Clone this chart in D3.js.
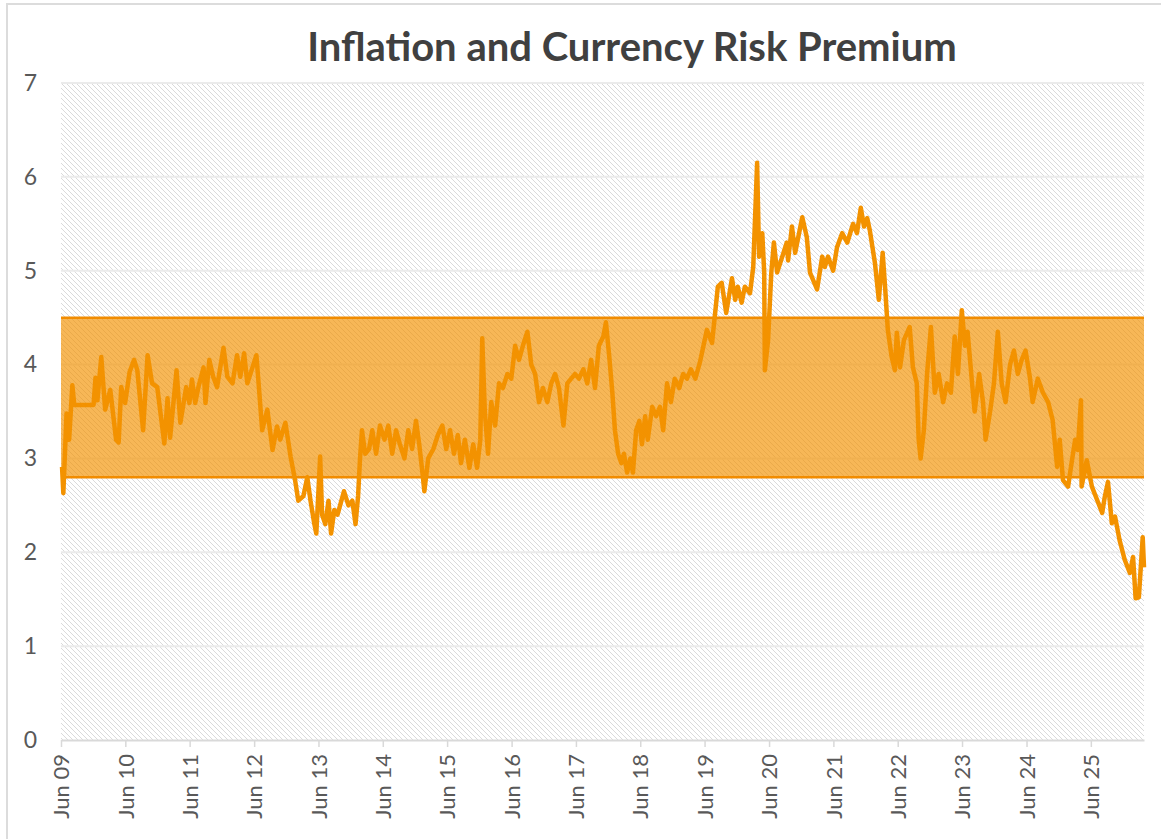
<!DOCTYPE html>
<html>
<head>
<meta charset="utf-8">
<script src="https://cdn.jsdelivr.net/npm/d3@7"></script>
<style>
  body { margin: 0; background: #fff; }
  .tick text { font-family: Lato, "Noto Sans", sans-serif; fill: #595959; }
</style>
</head>
<body>
<div id="chart-container"></div>
<script>
// decimal years of each observation
const years = [2009.43,2009.45,2009.50,2009.54,2009.59,2009.62,2009.92,2009.95,2009.98,2010.04,
  2010.10,2010.18,2010.27,2010.31,2010.35,2010.41,2010.48,2010.55,2010.60,2010.69,
  2010.76,2010.83,2010.91,2011.02,2011.07,2011.11,2011.21,2011.27,2011.36,2011.41,
  2011.45,2011.50,2011.55,2011.63,2011.66,2011.72,2011.78,2011.84,2011.94,2012.00,
  2012.08,2012.15,2012.20,2012.26,2012.31,2012.39,2012.45,2012.48,2012.54,2012.62,
  2012.70,2012.77,2012.82,2012.90,2012.98,2013.05,2013.10,2013.18,2013.24,2013.29,
  2013.35,2013.38,2013.41,2013.44,2013.47,2013.52,2013.57,2013.61,2013.66,2013.71,
  2013.75,2013.81,2013.88,2013.94,2013.99,2014.03,2014.06,2014.09,2014.14,2014.20,
  2014.25,2014.31,2014.37,2014.44,2014.50,2014.56,2014.62,2014.68,2014.75,2014.81,
  2014.87,2014.93,2014.98,2015.03,2015.06,2015.12,2015.20,2015.27,2015.34,2015.40,
  2015.46,2015.52,2015.58,2015.63,2015.69,2015.76,2015.82,2015.88,2015.93,2015.96,
  2016.00,2016.05,2016.10,2016.16,2016.22,2016.28,2016.35,2016.41,2016.47,2016.53,
  2016.59,2016.66,2016.72,2016.78,2016.84,2016.90,2016.97,2017.03,2017.09,2017.15,
  2017.22,2017.28,2017.34,2017.40,2017.46,2017.53,2017.59,2017.65,2017.71,2017.77,
  2017.84,2017.88,2017.93,2017.98,2018.02,2018.07,2018.12,2018.16,2018.21,2018.26,
  2018.30,2018.35,2018.40,2018.44,2018.49,2018.53,2018.60,2018.66,2018.72,2018.77,
  2018.83,2018.89,2018.95,2019.02,2019.08,2019.14,2019.20,2019.27,2019.34,2019.45,
  2019.53,2019.62,2019.68,2019.75,2019.84,2019.89,2019.93,2019.99,2020.04,2020.12,
  2020.17,2020.23,2020.26,2020.31,2020.34,2020.35,2020.40,2020.45,2020.49,2020.54,
  2020.62,2020.69,2020.71,2020.77,2020.82,2020.86,2020.93,2021.00,2021.05,2021.16,
  2021.24,2021.28,2021.33,2021.41,2021.47,2021.55,2021.63,2021.72,2021.78,2021.84,
  2021.89,2021.94,2021.98,2022.06,2022.12,2022.18,2022.22,2022.26,2022.32,2022.37,
  2022.40,2022.45,2022.51,2022.60,2022.65,2022.71,2022.74,2022.77,2022.82,2022.87,
  2022.93,2022.99,2023.05,2023.12,2023.18,2023.24,2023.30,2023.35,2023.41,2023.46,
  2023.50,2023.57,2023.61,2023.68,2023.74,2023.78,2023.85,2023.91,2023.97,2024.03,
  2024.09,2024.16,2024.22,2024.28,2024.34,2024.40,2024.47,2024.51,2024.59,2024.67,
  2024.75,2024.82,2024.89,2024.93,2024.98,2025.06,2025.12,2025.17,2025.21,2025.26,
  2025.27,2025.35,2025.43,2025.51,2025.59,2025.63,2025.68,2025.74,2025.79,2025.86,
  2025.94,2026.02,2026.07,2026.11,2026.16,2026.22,2026.24]

const premium = [2.91,2.63,3.48,3.20,3.78,3.57,3.57,3.86,3.62,4.08,
  3.52,3.73,3.20,3.17,3.76,3.59,3.92,4.05,3.94,3.30,
  4.10,3.80,3.76,3.16,3.64,3.22,3.94,3.38,3.76,3.59,
  3.84,3.59,3.76,3.97,3.59,4.05,3.87,3.76,4.18,3.87,
  3.80,4.10,3.87,4.12,3.80,3.97,4.10,3.84,3.30,3.52,
  3.09,3.34,3.20,3.38,3.02,2.77,2.55,2.60,2.80,2.55,
  2.30,2.20,2.60,3.02,2.40,2.30,2.55,2.20,2.45,2.40,
  2.50,2.65,2.50,2.55,2.30,2.60,3.00,3.30,3.05,3.10,
  3.30,3.05,3.35,3.20,3.35,3.05,3.30,3.15,3.00,3.30,
  3.10,3.40,3.15,2.85,2.65,3.00,3.10,3.25,3.35,3.10,
  3.30,3.05,3.25,2.95,3.20,2.90,3.15,2.90,3.20,4.28,
  3.50,3.05,3.60,3.35,3.80,3.75,3.90,3.85,4.20,4.05,
  4.20,4.35,4.00,3.90,3.60,3.75,3.60,3.80,3.90,3.75,
  3.35,3.80,3.85,3.90,3.85,3.95,3.80,4.05,3.75,4.20,
  4.30,4.45,4.10,3.70,3.30,3.05,2.95,3.05,2.85,3.00,
  2.85,3.30,3.40,3.15,3.45,3.20,3.55,3.45,3.55,3.30,
  3.80,3.60,3.85,3.75,3.90,3.85,3.95,3.85,4.02,4.37,
  4.23,4.83,4.87,4.55,4.92,4.69,4.83,4.66,4.83,4.76,
  5.04,6.15,5.15,5.40,4.98,3.94,4.26,4.98,5.30,4.98,
  5.15,5.30,5.11,5.47,5.19,5.33,5.57,5.36,4.98,4.80,
  5.15,5.04,5.15,5.00,5.25,5.40,5.30,5.50,5.40,5.67,
  5.47,5.56,5.43,5.08,4.69,5.19,4.80,4.37,4.08,3.94,
  4.34,3.97,4.26,4.40,3.97,3.80,3.20,3.00,3.30,3.90,
  4.40,3.70,3.90,3.60,3.80,3.70,4.30,3.90,4.58,4.20,
  4.35,3.80,3.50,3.90,3.60,3.20,3.50,3.80,4.35,3.80,
  3.60,4.00,4.15,3.90,4.05,4.15,3.85,3.60,3.85,3.70,
  3.60,3.41,2.91,3.20,2.77,2.70,2.98,3.20,3.09,3.62,
  2.70,2.98,2.70,2.56,2.42,2.59,2.75,2.31,2.38,2.13,
  1.92,1.78,1.95,1.51,1.52,2.16,1.84]

const bandLow = 2.8
const bandHigh = 4.5
const yTicks = [0, 1, 2, 3, 4, 5, 6, 7]
const tickYears = d3.range(2009, 2026)
const title = 'Inflation and Currency Risk Premium'

function toDate(y) {
    const yr = Math.floor(y)
    const start = new Date(yr, 0, 1), end = new Date(yr + 1, 0, 1)
    return new Date(+start + (y - yr) * (end - start))
}

document.addEventListener('DOMContentLoaded', function(){

    const W = 1161, H = 839
    const margin = {top: 83, right: 17, bottom: 99, left: 61}
    const width = W - margin.left - margin.right
    const height = H - margin.top - margin.bottom

    const root = d3.select('#chart-container')
        .append('svg')
        .attr('width', W)
        .attr('height', H)

    const defs = root.append('defs')
    const pat = defs.append('pattern')
        .attr('id', 'hatch')
        .attr('patternUnits', 'userSpaceOnUse')
        .attr('width', 5).attr('height', 5)
    pat.append('rect').attr('width', 5).attr('height', 5).attr('fill', '#fff')
    pat.append('path')
        .attr('d', 'M-1,-1 L6,6 M-1,4 L1,6 M4,-1 L6,1')
        .attr('stroke', '#dadada')
        .attr('stroke-width', 1)

    // outer frame
    root.append('rect')
        .attr('x', 7).attr('y', 4)
        .attr('width', W + 20).attr('height', H + 20)
        .attr('fill', 'none')
        .attr('stroke', '#dcdcdc')
        .attr('stroke-width', 2)

    root.append('text')
        .attr('x', 632).attr('y', 61)
        .attr('text-anchor', 'middle')
        .style('font-family', 'Lato, "Noto Sans", sans-serif')
        .style('font-weight', 'bold')
        .style('font-size', '40px')
        .style('fill', '#404040')
        .text(title)

    const svg = root.append('g')
        .attr('transform', `translate(${margin.left}, ${margin.top})`)

    const data = years.map((y, i) => ({date: toDate(y), value: premium[i]}))

    const x = d3.scaleTime()
        .domain([new Date(2009, 5, 1), toDate(years[years.length - 1])])
        .range([0, width])

    const y = d3.scaleLinear()
        .domain([0, 7])
        .range([height, 0])

    svg.append('rect')
        .attr('width', width).attr('height', height)
        .attr('fill', 'url(#hatch)')

    // gridlines
    svg.append('g')
        .selectAll('line')
        .data(yTicks.slice(1))
        .join('line')
        .attr('x1', 0).attr('x2', width)
        .attr('y1', d => y(d)).attr('y2', d => y(d))
        .attr('stroke', '#ebebeb')
        .attr('stroke-width', 2)

    // target band
    svg.append('rect')
        .attr('x', 0).attr('width', width)
        .attr('y', y(bandHigh))
        .attr('height', y(bandLow) - y(bandHigh))
        .attr('fill', '#f39200')
        .attr('fill-opacity', 0.66)

    svg.selectAll('.band-edge')
        .data([bandLow, bandHigh])
        .join('line')
        .attr('class', 'band-edge')
        .attr('x1', 0).attr('x2', width)
        .attr('y1', d => y(d)).attr('y2', d => y(d))
        .attr('stroke', '#f28c00')
        .attr('stroke-width', 2.5)

    const xAxis = svg.append('g')
        .attr('transform', `translate(0,${height})`)
        .call(d3.axisBottom(x)
            .tickValues(tickYears.map(yr => new Date(yr, 5, 1)))
            .tickFormat(d3.timeFormat('Jun %y'))
            .tickSize(7)
            .tickSizeOuter(0))
    xAxis.select('.domain').attr('stroke', '#d9d9d9').attr('stroke-width', 2)
    xAxis.selectAll('.tick line').attr('stroke', '#d9d9d9').attr('stroke-width', 1.5)
    xAxis.selectAll('.tick text')
        .style('font-size', '22px')
        .attr('transform', 'rotate(-90)')
        .attr('text-anchor', 'end')
        .attr('x', -14)
        .attr('y', 0)
        .attr('dy', '0.35em')

    const yAxis = svg.append('g')
        .call(d3.axisLeft(y).tickValues(yTicks).tickFormat(d3.format('d')).tickSize(0).tickPadding(24))
    yAxis.select('.domain').remove()
    yAxis.selectAll('.tick text').style('font-size', '23px')

    const line = d3.line()
        .x(d => x(d.date))
        .y(d => y(d.value))

    svg.append('path')
        .datum(data)
        .attr('fill', 'none')
        .attr('stroke', '#f39200')
        .attr('stroke-width', 4.5)
        .attr('stroke-linejoin', 'round')
        .attr('d', line)
})
</script>
</body>
</html>
